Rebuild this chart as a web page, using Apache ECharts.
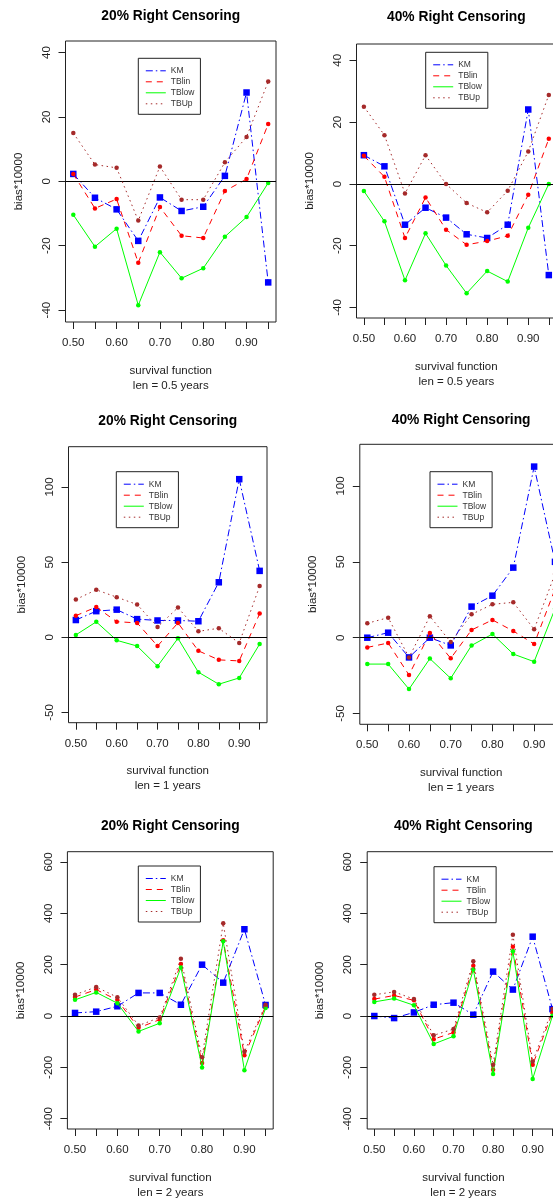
<!DOCTYPE html>
<html><head><meta charset="utf-8">
<script src="https://cdn.jsdelivr.net/npm/echarts@6/dist/echarts.min.js"></script>
<style>html,body{margin:0;padding:0;overflow:hidden;background:#fff}#c{width:575px;height:1204px}</style>
</head><body><div id="c"></div><script>
// ---- data ----
const survival = [0.50,0.55,0.60,0.65,0.70,0.75,0.80,0.85,0.90,0.95];
const xLabelValues = [0.50,0.60,0.70,0.80,0.90];
const seriesNames = ['KM','TBlin','TBlow','TBUp'];
const panelTitles = ['20% Right Censoring','40% Right Censoring','20% Right Censoring','40% Right Censoring','20% Right Censoring','40% Right Censoring'];
const panelLens = ['len = 0.5 years','len = 0.5 years','len = 1 years','len = 1 years','len = 2 years','len = 2 years'];
const xAxisTitle = 'survival function';
const yAxisTitle = 'bias*10000';
const yTicks05 = [-40,-20,0,20,40];
const yTicks1 = [-50,0,50,100];
const yTicks2 = [-400,-200,0,200,400,600];

const p1KM    = [2.3,-5.1,-8.7,-18.5,-5.0,-9.2,-7.9,1.7,27.6,-31.4];
const p1TBlin = [2.3,-8.4,-5.5,-25.3,-8.0,-16.9,-17.6,-3.0,0.7,17.8];
const p1TBlow = [-10.4,-20.3,-14.7,-38.5,-22.0,-30.1,-27.0,-17.2,-11.1,-0.5];
const p1TBUp  = [15.0,5.2,4.2,-12.2,4.6,-5.7,-5.7,5.9,13.8,31.0];

const p2KM    = [9.3,5.7,-13.2,-7.7,-10.9,-16.3,-17.5,-13.2,24.1,-29.5];
const p2TBlin = [9.1,2.3,-17.5,-4.4,-14.8,-19.7,-18.5,-16.8,-3.5,14.6];
const p2TBlow = [-2.3,-12.1,-31.2,-16.0,-26.4,-35.4,-28.2,-31.6,-14.2,0];
const p2TBUp  = [25.0,15.8,-3.1,9.3,0,-6.2,-9.2,-2.2,10.5,28.8];

const p3KM    = [11.5,17.4,18.4,12.1,11.2,11.2,10.7,36.6,105.2,44.2];
const p3TBlin = [14.4,20.1,10.4,9.6,-5.8,9.6,-9.0,-15.0,-15.7,15.8];
const p3TBlow = [1.6,10.3,-2.0,-5.8,-19.2,-0.7,-23.2,-31.2,-27.0,-4.5];
const p3TBUp  = [25.2,31.6,26.7,21.8,6.9,19.8,4.0,6.0,-3.8,34.1];

const p4KM    = [0,3.3,-13.0,0,-5.1,20.5,27.7,46.2,112.8,50];
const p4TBlin = [-6.4,-3.5,-24.6,3.1,-13.6,5.1,11.7,4.4,-4.2,32];
const p4TBlow = [-17.4,-17.4,-33.9,-13.8,-26.8,-5.1,2.4,-10.8,-15.8,19];
const p4TBUp  = [9.5,13.2,-13.0,14.1,-2.9,15.4,22.0,23.3,5.5,42];

const p5KM    = [12,17,38,90,90,44,200,130,338,43];
const p5TBlin = [74,103,62,-46,-14,203,-183,295,-153,38];
const p5TBlow = [63,92,50,-60,-28,189,-200,291,-211,31];
const p5TBUp  = [83,113,73,-37,-6,223,-161,361,-139,44];

const p6KM    = [0,-8,14,44,52,5,173,103,309,27];
const p6TBlin = [66,80,61,-90,-64,196,-209,270,-190,14];
const p6TBlow = [55,68,42,-109,-79,181,-226,252,-245,1];
const p6TBUp  = [83,94,66,-75,-51,213,-190,317,-177,27];

const panelData = [
  [p1KM,p1TBlin,p1TBlow,p1TBUp],
  [p2KM,p2TBlin,p2TBlow,p2TBUp],
  [p3KM,p3TBlin,p3TBlow,p3TBUp],
  [p4KM,p4TBlin,p4TBlow,p4TBUp],
  [p5KM,p5TBlin,p5TBlow,p5TBUp],
  [p6KM,p6TBlin,p6TBlow,p6TBUp]
];
const panelYTicks = [yTicks05,yTicks05,yTicks1,yTicks1,yTicks2,yTicks2];

// ---- layout / style ----
const FONT = '"Liberation Sans", Arial, sans-serif';
const layout = [
  {l:65.5, t:41,    w:210.5, h:281,   ymin:-43.7, ymax:43.6,  titleY:9.5,   lgX:138.3, lgY:58.3},
  {l:356.5,t:44,    w:199.7, h:274,   ymin:-43.4, ymax:45.3,  titleY:10,    lgX:425.7, lgY:52.3},
  {l:68.5, t:446.7, w:198.5, h:276,   ymin:-56.8, ymax:126.8, titleY:414,   lgX:116.3, lgY:471.7},
  {l:359.8,t:444.3, w:202.7, h:280,   ymin:-57.1, ymax:127.5, titleY:413,   lgX:430,   lgY:471.7},
  {l:67.4, t:851.7, w:205.8, h:277.3, ymin:-440,  ymax:640,   titleY:819.5, lgX:138.3, lgY:866},
  {l:367.2,t:851.7, w:192.4, h:277.3, ymin:-440,  ymax:640,   titleY:819.5, lgX:434,   lgY:866.7}
];
const styles = [
  {color:'#0000FF', dash:[7,3,1.5,3], symbol:'rect',   size:6.5},
  {color:'#FF0000', dash:[6,5],       symbol:'circle', size:4.5},
  {color:'#00FF00', dash:'solid',     symbol:'circle', size:4.5},
  {color:'#A52A2A', dash:[1.5,3.5],   symbol:'circle', size:4.5}
];

const option = {animation:false, backgroundColor:'#fff', title:[], legend:[], grid:[], xAxis:[], yAxis:[], series:[]};

layout.forEach((p,i)=>{
  option.grid.push({left:p.l, top:p.t, width:p.w, height:p.h, show:true, borderColor:'#222', borderWidth:1, backgroundColor:'transparent'});
  option.title.push({text:panelTitles[i], left:p.l + p.w/2, top:p.titleY, textAlign:'center', padding:0,
    textStyle:{fontFamily:FONT, fontSize:13.8, fontWeight:'bold', color:'#000'}});
  option.legend.push({left:p.lgX, top:p.lgY, orient:'vertical', data:seriesNames, selectedMode:false,
    itemWidth:20, itemHeight:9, itemGap:2, padding:[8,6,6,7], borderColor:'#222', borderWidth:1,
    backgroundColor:'#fff', itemStyle:{opacity:0}, lineStyle:{width:1},
    textStyle:{fontFamily:FONT, fontSize:8.5, color:'#333'}});
  option.xAxis.push({type:'value', gridIndex:i, min:0.482, max:0.968,
    name: xAxisTitle + '\n' + panelLens[i], nameLocation:'middle', nameGap:41,
    nameTextStyle:{fontFamily:FONT, fontSize:11.5, color:'#222', lineHeight:15},
    axisLine:{show:false, onZero:false}, splitLine:{show:false},
    axisTick:{show:true, length:7, lineStyle:{color:'#222'}, customValues:survival},
    axisLabel:{fontFamily:FONT, fontSize:11.5, color:'#222', margin:15, customValues:xLabelValues,
      formatter:v=>Number(v).toFixed(2)}});
  option.yAxis.push({type:'value', gridIndex:i, min:p.ymin, max:p.ymax,
    name:yAxisTitle, nameLocation:'middle', nameGap:41,
    nameTextStyle:{fontFamily:FONT, fontSize:11.5, color:'#222'},
    axisLine:{show:false, onZero:false}, splitLine:{show:false},
    axisTick:{show:true, length:7, lineStyle:{color:'#222'}, customValues:panelYTicks[i]},
    axisLabel:{fontFamily:FONT, fontSize:11.5, color:'#222', rotate:90, margin:13, customValues:panelYTicks[i]}});
  seriesNames.forEach((nm,k)=>{
    const st = styles[k];
    const s = {type:'line', name:nm, xAxisIndex:i, yAxisIndex:i,
      data: survival.map((x,j)=>[x, panelData[i][k][j]]),
      symbol:st.symbol, symbolSize:st.size, showAllSymbol:true,
      lineStyle:{color:st.color, width:1, type:st.dash},
      itemStyle:{color:st.color}, emphasis:{disabled:true}, z:2+k};
    if(k===0){
      s.markLine = {silent:true, symbol:'none', label:{show:false}, animation:false,
        lineStyle:{color:'#000', width:1, type:'solid'}, data:[{yAxis:0}]};
    }
    option.series.push(s);
  });
});

const chart = echarts.init(document.getElementById('c'), null, {renderer:'canvas'});
chart.setOption(option);
</script></body></html>
